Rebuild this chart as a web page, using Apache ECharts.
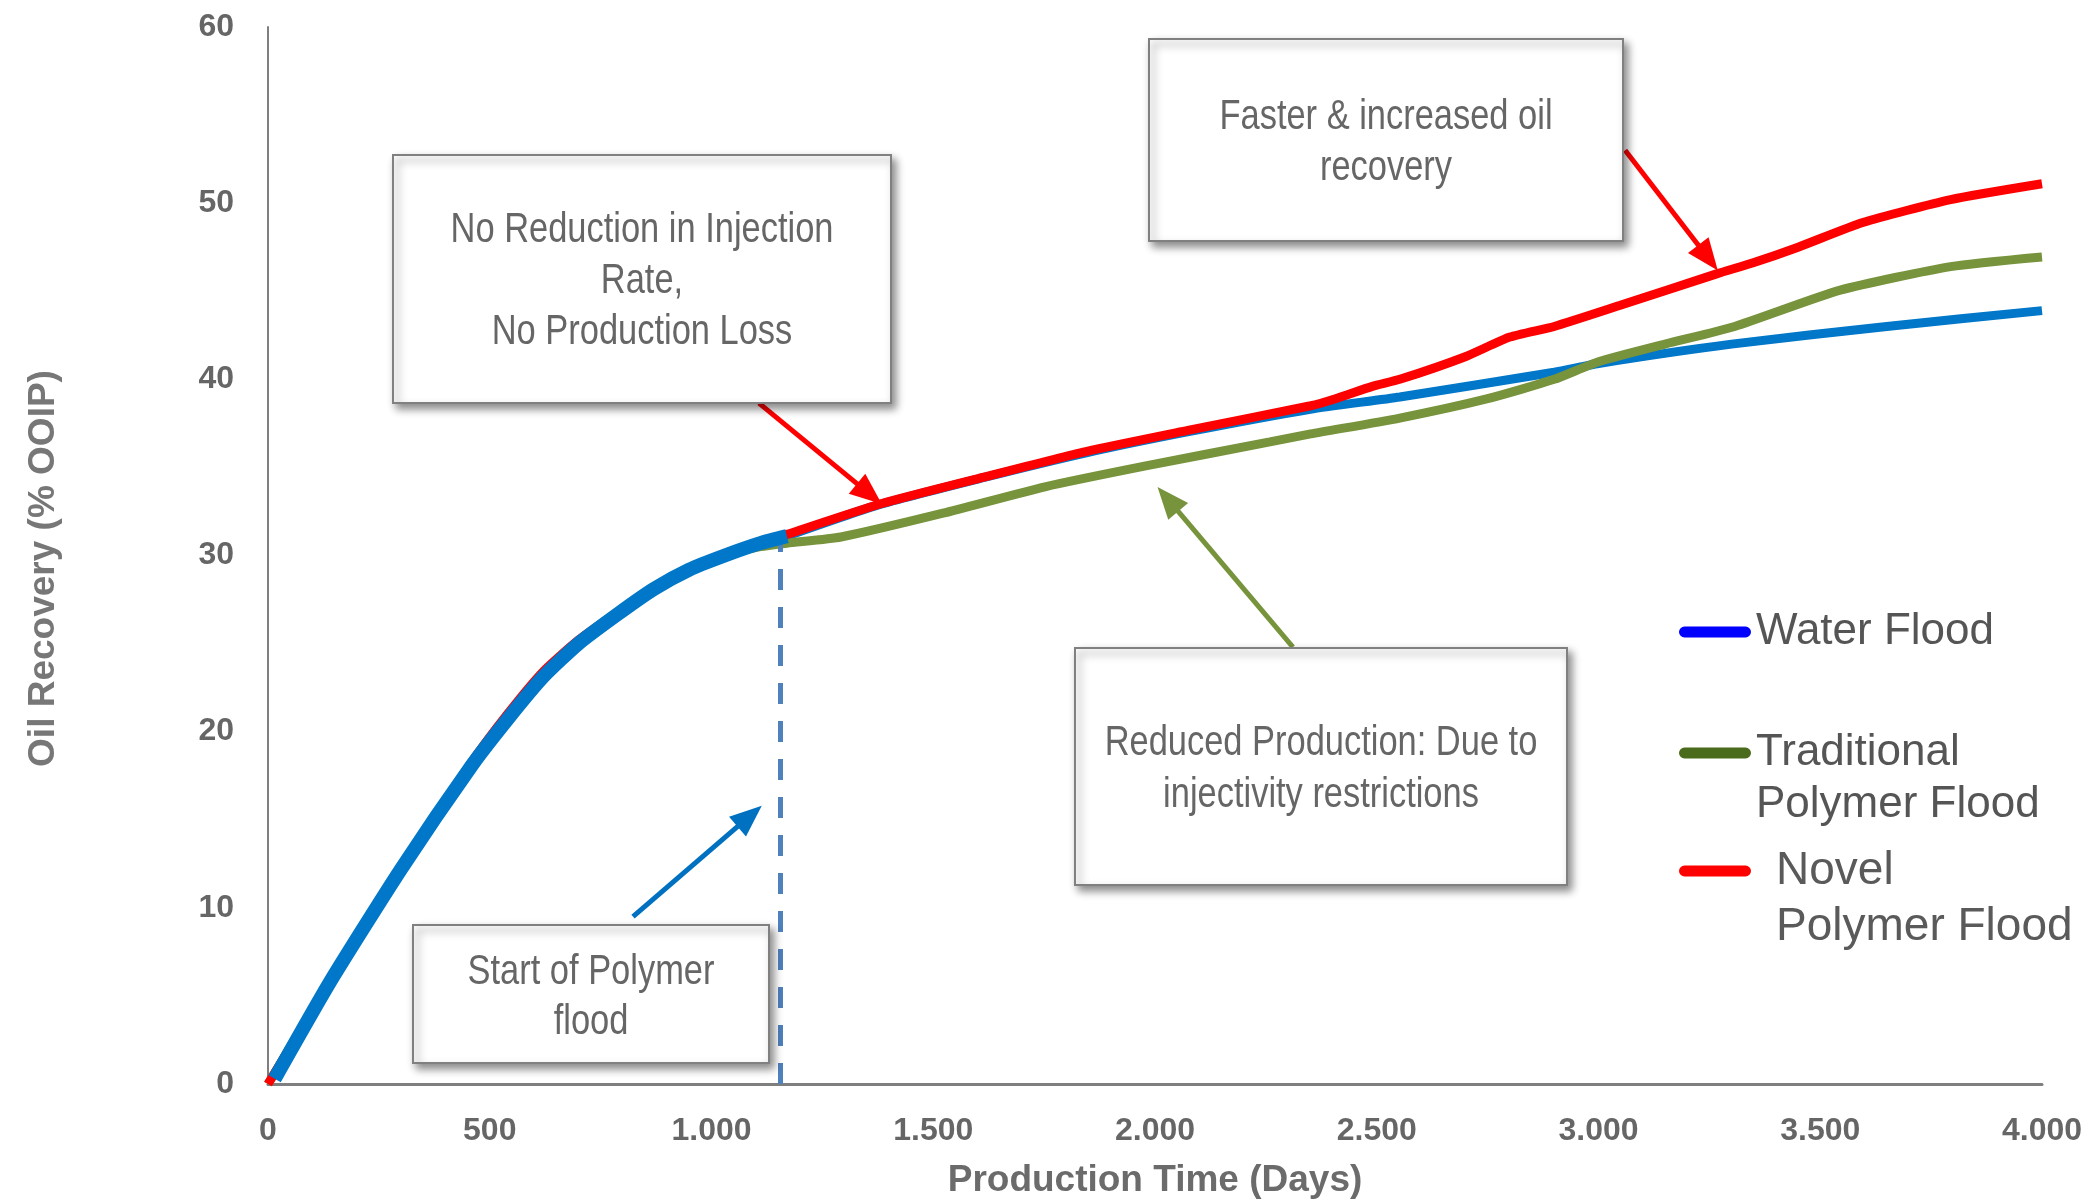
<!DOCTYPE html>
<html>
<head>
<meta charset="utf-8">
<title>Oil Recovery vs Production Time</title>
<script src="https://cdn.jsdelivr.net/npm/echarts@6/dist/echarts.min.js"></script>
<style>
  html, body { margin: 0; padding: 0; background: #fff; }
  #chart { width: 2091px; height: 1204px; }
</style>
</head>
<body>
<div id="chart"></div>
<script>
// days vs % OOIP
const waterDays = [15, 140, 300, 460, 540, 620, 700, 790, 870, 950, 1030, 1110, 1170, 1380, 1610, 1840, 2070, 2350, 2552, 2900, 3000, 3300, 3650, 4000];
const waterRec = [0.3, 5.8, 12.2, 18.1, 20.7, 23.1, 25.0, 26.7, 28.1, 29.2, 30.0, 30.7, 31.1, 32.9, 34.4, 35.8, 37.0, 38.3, 39.0, 40.4, 40.9, 42.0, 43.0, 43.9];

const tradDays = [0, 140, 300, 460, 540, 620, 700, 790, 870, 950, 1030, 1110, 1170, 1292, 1522, 1752, 1982, 2259, 2351, 2552, 2750, 2900, 3000, 3150, 3307, 3545, 3794, 4000];
const tradRec = [0, 5.8, 12.2, 18.1, 20.7, 23.1, 25.0, 26.7, 28.1, 29.2, 30.0, 30.5, 30.7, 31.05, 32.4, 33.9, 35.1, 36.45, 36.9, 37.8, 38.9, 40.0, 41.0, 42.0, 43.0, 45.06, 46.4, 46.95];

const novelDays = [0, 140, 300, 460, 540, 620, 700, 790, 870, 950, 1030, 1110, 1170, 1384, 1614, 1844, 2074, 2351, 2407, 2490, 2552, 2701, 2800, 2900, 3049, 3268, 3347, 3450, 3596, 3794, 4000];
const novelRec = [0, 5.8, 12.2, 18.3, 21.0, 23.4, 25.2, 26.8, 28.1, 29.2, 30.0, 30.7, 31.2, 32.95, 34.45, 35.9, 37.1, 38.5, 38.9, 39.6, 40.0, 41.3, 42.4, 43.0, 44.2, 46.0, 46.6, 47.5, 48.9, 50.2, 51.1];

const polymerStart = 1170;   // day the polymer flood starts
const dashedDay = 1154;
const dashedTop = 31;

// arrows: [fromDay, fromRec, toDay, toRec]
const arrowRed1 = [1107, 38.65, 1356, 33.5];
const arrowRed2 = [3060, 53.0, 3247, 46.9];
const arrowGreen = [2311, 24.8, 2029, 33.2];
const arrowBlue = [823, 9.5, 1086, 15.2];

const arial = "'Liberation Sans', Arial, sans-serif";
const boxText = '#666666';

const zip = (xs, ys) => xs.map((x, i) => [x, ys[i]]);
const water = zip(waterDays, waterRec);
const waterEarly = water.filter(p => p[0] <= polymerStart);
const waterLate = water.filter(p => p[0] >= polymerStart);

const fmtDays = v => v >= 1000 ? Math.floor(v / 1000) + '.' + String(v % 1000).padStart(3, '0') : String(v);

function arrow(a, color) {
  return [
    { coord: [a[0], a[1]], symbol: 'none', lineStyle: { color: color, width: 5, type: 'solid' }, itemStyle: { color: color } },
    { coord: [a[2], a[3]], symbol: 'triangle', symbolSize: [26, 32], itemStyle: { color: color } }
  ];
}

// annotation box helper (pixels); text squeezed to look like Arial Narrow
function box(x, y, w, h, lines, cy, lh) {
  return [
    {
      type: 'rect', z: 100,
      shape: { x: x, y: y, width: w, height: h },
      style: { fill: '#fff', stroke: '#808080', lineWidth: 2, shadowBlur: 8, shadowOffsetX: 4, shadowOffsetY: 5, shadowColor: 'rgba(0,0,0,0.45)' }
    },
    {
      type: 'text', z: 101, x: x + w / 2, y: cy, scaleX: 0.82,
      style: { text: lines.join('\n'), fill: boxText, fontSize: 42, fontFamily: arial, lineHeight: lh, align: 'center', verticalAlign: 'middle' }
    }
  ];
}

const chart = echarts.init(document.getElementById('chart'), null, { renderer: 'canvas' });

const legendBase = {
  orient: 'vertical', left: 1679, padding: 0, selectedMode: false,
  itemWidth: 72, itemHeight: 11,
  icon: 'path://M5,0 L67,0 A5.5,5.5 0 0 1 67,11 L5,11 A5.5,5.5 0 0 1 5,0 Z'
};

const option = {
  backgroundColor: '#fff',
  animation: false,
  grid: { left: 268, right: 49, top: 27, bottom: 120, containLabel: false },
  xAxis: {
    type: 'value', min: 0, max: 4000, interval: 500,
    name: 'Production Time (Days)', nameLocation: 'middle', nameGap: 78,
    nameTextStyle: { color: '#6b6b6b', fontSize: 37, fontWeight: 'bold', fontFamily: arial },
    axisLine: { show: true, lineStyle: { color: '#7f7f7f', width: 3 } },
    axisTick: { show: false },
    splitLine: { show: false },
    axisLabel: { color: '#666666', fontSize: 32, fontWeight: 'bold', fontFamily: arial, margin: 31, formatter: fmtDays }
  },
  yAxis: {
    type: 'value', min: 0, max: 60, interval: 10,
    name: 'Oil Recovery (% OOIP)', nameLocation: 'middle', nameGap: 206, nameRotate: 90,
    nameTextStyle: { color: '#777777', fontSize: 37, fontWeight: 'bold', fontFamily: arial, padding: [0, 26, 0, 0] },
    axisLine: { show: true, lineStyle: { color: '#7f7f7f', width: 2 } },
    axisTick: { show: false },
    splitLine: { show: false },
    axisLabel: { color: '#666666', fontSize: 32, fontWeight: 'bold', fontFamily: arial, margin: 34 }
  },
  legend: [
    Object.assign({}, legendBase, {
      top: 606,
      data: [{ name: 'Water Flood', itemStyle: { color: '#0000ff', borderWidth: 0 } }],
      textStyle: { color: '#555', fontSize: 44, fontFamily: arial, lineHeight: 52 }
    }),
    Object.assign({}, legendBase, {
      top: 675,
      data: [{ name: 'Traditional Polymer Flood', itemStyle: { color: '#4a6b1c', borderWidth: 0 } }],
      // blank first line keeps the icon level with "Traditional"
      formatter: () => ' \nTraditional\nPolymer Flood',
      textStyle: { color: '#555', fontSize: 44, fontFamily: arial, lineHeight: 52 }
    }),
    Object.assign({}, legendBase, {
      top: 787,
      data: [{ name: 'Novel Polymer Flood', itemStyle: { color: '#ff0000', borderWidth: 0 } }],
      formatter: () => ' \nNovel\nPolymer Flood',
      textStyle: { color: '#5a5a5a', fontSize: 46, fontFamily: arial, lineHeight: 56, padding: [0, 0, 0, 20] }
    })
  ],
  series: [
    {
      name: 'Water Flood', type: 'line', data: waterLate, z: 2,
      smooth: 0.2, showSymbol: false, symbol: 'none',
      lineStyle: { color: '#0077c8', width: 9 }, itemStyle: { color: '#0077c8' }
    },
    {
      name: 'Traditional Polymer Flood', type: 'line', data: zip(tradDays, tradRec), z: 3,
      smooth: 0.2, showSymbol: false, symbol: 'none',
      lineStyle: { color: '#77933c', width: 9 }, itemStyle: { color: '#77933c' }
    },
    {
      name: 'Novel Polymer Flood', type: 'line', data: zip(novelDays, novelRec), z: 4,
      smooth: 0.2, showSymbol: false, symbol: 'none',
      lineStyle: { color: '#ff0000', width: 9 }, itemStyle: { color: '#ff0000' },
      markLine: {
        silent: true, animation: false,
        symbol: ['none', 'triangle'],
        label: { show: false },
        emphasis: { disabled: true },
        data: [
          arrow(arrowRed1, '#ff0000'),
          arrow(arrowRed2, '#ff0000'),
          arrow(arrowGreen, '#77933c'),
          arrow(arrowBlue, '#0070c0')
        ]
      }
    },
    {
      name: 'Water Flood', type: 'line', data: waterEarly, z: 5,
      smooth: 0.2, showSymbol: false, symbol: 'none',
      lineStyle: { color: '#0077c8', width: 14 }, itemStyle: { color: '#0077c8' },
      markLine: {
        silent: true, animation: false,
        symbol: ['none', 'none'],
        label: { show: false },
        emphasis: { disabled: true },
        data: [[
          { coord: [dashedDay, 0], lineStyle: { color: '#4f81bd', width: 5, type: [21, 17] } },
          { coord: [dashedDay, dashedTop] }
        ]]
      }
    }
  ],
  graphic: [].concat(
    box(393, 155, 498, 248, ['No Reduction in Injection', 'Rate,', 'No Production Loss'], 281, 51),
    box(1149, 39, 474, 202, ['Faster & increased oil', 'recovery'], 143, 51),
    box(1075, 648, 492, 237, ['Reduced Production: Due to', 'injectivity restrictions'], 769, 52),
    box(413, 925, 356, 138, ['Start of Polymer', 'flood'], 997, 50)
  )
};

chart.setOption(option);
</script>
</body>
</html>
